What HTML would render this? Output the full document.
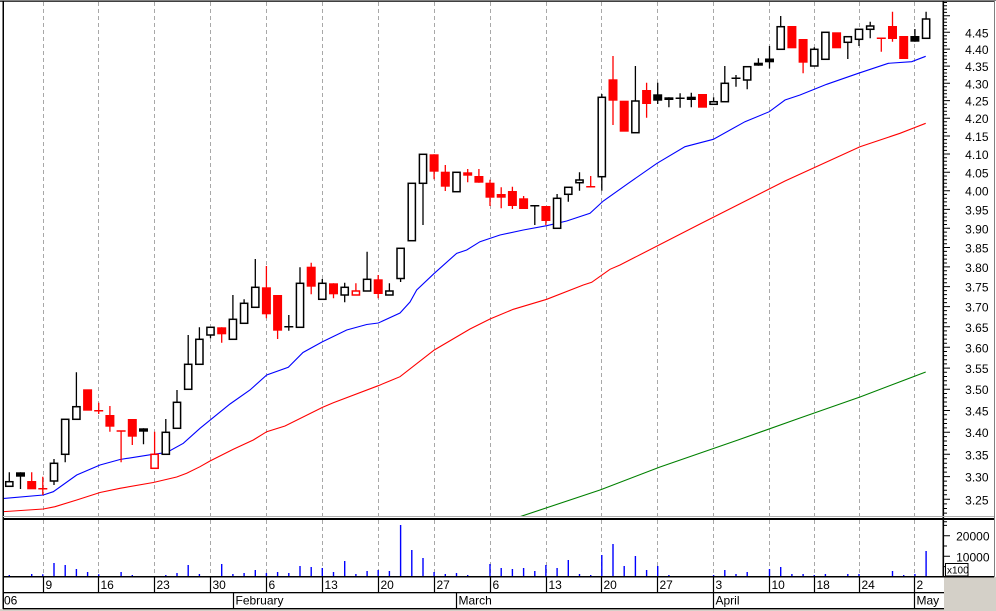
<!DOCTYPE html>
<html><head><meta charset="utf-8"><style>
html,body{margin:0;padding:0;background:#fff;}
body{width:996px;height:611px;overflow:hidden;}
svg{display:block;}
text{font-family:"Liberation Sans",Arial,sans-serif;font-size:12px;fill:#000;}
</style></head><body>
<svg width="996" height="611" viewBox="0 0 996 611" xmlns="http://www.w3.org/2000/svg">
<defs>
<clipPath id="pc"><rect x="4" y="2" width="939" height="514"/></clipPath>
</defs>
<rect x="0" y="0" width="996" height="611" fill="#fff"/>
<!-- gray areas -->
<rect x="944" y="577" width="52" height="34" fill="#d4d0c8"/>
<rect x="0" y="609" width="996" height="2" fill="#d4d0c8"/>

<!-- dashed grid -->
<g stroke="#a8a8a8" stroke-width="1" stroke-dasharray="4 3" fill="none">
<path d="M43.5 2V516M98.5 2V516M154.5 2V516M210.5 2V516M266.5 2V516M322.5 2V516M378.5 2V516M434.5 2V516M490.5 2V516M546.5 2V516M601.5 2V516M657.5 2V516M713.5 2V516M769.5 2V516M814.5 2V516M859.5 2V516M914.5 2V516"/>
<path d="M43.5 520V576M98.5 520V576M154.5 520V576M210.5 520V576M266.5 520V576M322.5 520V576M378.5 520V576M434.5 520V576M490.5 520V576M546.5 520V576M601.5 520V576M657.5 520V576M713.5 520V576M769.5 520V576M814.5 520V576M859.5 520V576M914.5 520V576"/>
</g>

<!-- moving averages -->
<g clip-path="url(#pc)" fill="none" stroke-width="1.1">
<polyline stroke="#008000" points="519,517 600,490 660,467 738,440 800,418 860,397 925.7,372"/>
<polyline stroke="#ff0000" points="3,511.7 43.3,509 55,506.7 76.7,500 100,492.5 120,488.3 153.3,482.5 176.7,477 186.7,473.3 200,466.7 210,461 233.3,449.3 253.3,440 266.7,431.7 285,426 322.7,407.3 333.3,402.7 378.3,385.7 400,376.7 434.3,350 470,329 490,319 513.3,309.3 546.7,299.3 583.3,285 591.7,282.3 610,269.3 620,265 700,224 785,181 860,146.7 900,133.3 925.7,123.3"/>
<polyline stroke="#0000ff" points="3,498.5 43.3,495 53.3,491.7 76.7,475 100,465 120,459.5 153,454.3 166.7,452.5 183.3,443.3 200,428.3 230,404 250,390 266.7,375 288.3,367.3 303,352.5 322,342 346.7,330 366.7,324.5 378.3,323 400,313 410,302 416.7,290 434.3,273.3 456.7,253.3 466.7,250 480,241.7 500,235 523.3,230 546.7,225.7 566.7,221 590,213.3 603.3,201 628.3,183.3 657,163.3 685,146.7 713.3,139.3 745,121.7 769.3,111.7 785,100 800,95 826.7,84.3 858.3,73.3 888.3,63.3 911.7,61.7 925.7,56.3"/>
</g>

<!-- candle wicks -->
<path fill="none" stroke="#000" stroke-width="1.3" d="M9.3 472.3V486.3M20.5 472.3V489M54 459V485M65.2 419.3V462.3M76.4 372.3V419.3M143.5 428.3V444.3M165.8 419V454.3M177 390V428.3M188.2 335V389.3M199.4 327.3V364.3M210.5 327.3V338.3M232.9 295V339.3M244.1 299.3V323.3M255.3 259V307.3M288.8 315V330.7M300 267.3V327.3M322.3 279V299.3M344.7 282.7V302.3M367.1 251.7V291M389.4 283.3V295M400.6 248.3V282M411.8 183.3V240.7M423 154.3V225M456.5 172.3V191.7M534.8 205.7V225M557.1 194V228.3M568.3 187.3V201.7M579.5 172.3V190.7M601.8 94V190.7M635.4 66V132.7M657.7 82.7V104M668.9 97.3V107.3M680.1 93.3V107.7M691.3 92.7V107.3M713.6 97.3V104.3M724.8 66V101.7M736 75V86.7M747.2 66.7V89.3M758.4 58.3V65.7M769.5 46V68.5M780.7 16V49.3M814.3 47.3V66M825.4 32.3V59.3M847.8 36.7V59M859 29.3V46M870.2 21.7V38.3M914.9 29V41.7M926.1 11.7V38.3"/>
<path fill="none" stroke="#000" stroke-width="1.5" d="M284.3 326.7H293.3M530.3 205.7H539.3M675.6 98.3H684.6M731.5 78.3H740.5"/>
<path fill="none" stroke="#ff0000" stroke-width="1.3" d="M31.7 472.3V489M42.8 476.7V495M98.7 402.7V414M109.9 406V431.7M121.1 431V462.3M132.3 419V445M154.6 431.7V468.3M221.7 327.3V342.7M266.4 266V318.3M277.6 295V339M311.2 262.7V294.3M333.5 283.3V298.3M355.9 283.3V295M378.2 275V298.3M434.1 154.3V179.3M445.3 165V191M467.7 169V182.3M478.9 169V182.7M490 179.7V206M501.2 187.3V208.3M512.4 186.7V209M523.6 196V209M545.9 206V225M590.7 176V186.7M613 56V125M646.6 82.7V117.7M803.1 39V73.3M881.3 38.3V51.7M892.5 11.7V41.7"/>
<path fill="none" stroke="#ff0000" stroke-width="1.5" d="M38.3 488.7H47.3M94.2 410.7H103.2M116.6 431H125.6M586.2 186.7H595.2M876.8 38.3H885.8"/>

<!-- red filled bodies -->
<g fill="#ff0000">
<rect x="27.2" y="481" width="9" height="8.3"/>
<rect x="83.1" y="389.3" width="9" height="21.4"/>
<rect x="105.4" y="415" width="9" height="11.7"/>
<rect x="127.8" y="419" width="9" height="17.7"/>
<rect x="217.2" y="327.3" width="9" height="7"/>
<rect x="261.9" y="287.3" width="9" height="27"/>
<rect x="273.1" y="295" width="9" height="35.7"/>
<rect x="306.7" y="266.7" width="9" height="20"/>
<rect x="329" y="283.3" width="9" height="11"/>
<rect x="373.7" y="279.3" width="9" height="14.7"/>
<rect x="429.6" y="154.3" width="9" height="17.4"/>
<rect x="440.8" y="171.7" width="9" height="15"/>
<rect x="463.2" y="172.3" width="9" height="3.4"/>
<rect x="474.4" y="176" width="9" height="6.7"/>
<rect x="485.5" y="182.7" width="9" height="15"/>
<rect x="496.7" y="194" width="9" height="3.7"/>
<rect x="507.9" y="191" width="9" height="15"/>
<rect x="519.1" y="198.3" width="9" height="10.7"/>
<rect x="541.4" y="206" width="9" height="15"/>
<rect x="608.5" y="79.3" width="9" height="21.4"/>
<rect x="619.7" y="100.7" width="9" height="31"/>
<rect x="642.1" y="90" width="9" height="14"/>
<rect x="698" y="94" width="9" height="13.7"/>
<rect x="787.4" y="26" width="9" height="22.3"/>
<rect x="798.6" y="39" width="9" height="23.7"/>
<rect x="832.1" y="32.3" width="9" height="16"/>
<rect x="888" y="26" width="9" height="13"/>
<rect x="899.2" y="36" width="9" height="23"/>
</g>
<!-- red hollow -->
<g fill="#fff" stroke="#ff0000" stroke-width="1.5">
<rect x="151" y="454.3" width="7.2" height="14"/>
<rect x="352.3" y="291" width="7.2" height="4"/>
</g>
<!-- black filled -->
<g fill="#000">
<rect x="16" y="472.3" width="9" height="4.4"/>
<rect x="139" y="428.3" width="9" height="3.4"/>
<rect x="653.2" y="94.3" width="9" height="6.4"/>
<rect x="664.4" y="97.3" width="9" height="2.7"/>
<rect x="686.8" y="96.7" width="9" height="3.3"/>
<rect x="753.9" y="62.7" width="9" height="3"/>
<rect x="765" y="58.5" width="9" height="3.8"/>
<rect x="910.4" y="36" width="9" height="5.7"/>
</g>
<!-- hollow black -->
<g fill="#fff" stroke="#000" stroke-width="1.5">
<rect x="5.7" y="481.7" width="7.2" height="4.6"/>
<rect x="50.4" y="463.3" width="7.2" height="17.7"/>
<rect x="61.6" y="419.3" width="7.2" height="35"/>
<rect x="72.8" y="406.7" width="7.2" height="12.6"/>
<rect x="162.2" y="432.3" width="7.2" height="22"/>
<rect x="173.4" y="402.3" width="7.2" height="26"/>
<rect x="184.6" y="364.3" width="7.2" height="25"/>
<rect x="195.8" y="339.3" width="7.2" height="25"/>
<rect x="206.9" y="327.3" width="7.2" height="7.7"/>
<rect x="229.3" y="319.3" width="7.2" height="20"/>
<rect x="240.5" y="303.3" width="7.2" height="20"/>
<rect x="251.7" y="287.3" width="7.2" height="20"/>
<rect x="296.4" y="283.3" width="7.2" height="44"/>
<rect x="318.7" y="283.3" width="7.2" height="16"/>
<rect x="341.1" y="287.3" width="7.2" height="7.7"/>
<rect x="363.5" y="279.3" width="7.2" height="11.7"/>
<rect x="385.8" y="291" width="7.2" height="4"/>
<rect x="397" y="248.3" width="7.2" height="30.2"/>
<rect x="408.2" y="183.3" width="7.2" height="57.4"/>
<rect x="419.4" y="154.3" width="7.2" height="29"/>
<rect x="452.9" y="172.3" width="7.2" height="19.4"/>
<rect x="553.5" y="198.3" width="7.2" height="30"/>
<rect x="564.7" y="187.3" width="7.2" height="7"/>
<rect x="575.9" y="180" width="7.2" height="2.7"/>
<rect x="598.2" y="97.3" width="7.2" height="79.4"/>
<rect x="631.8" y="101" width="7.2" height="31.7"/>
<rect x="710" y="101.7" width="7.2" height="2.6"/>
<rect x="721.2" y="83.3" width="7.2" height="18.4"/>
<rect x="743.6" y="66.7" width="7.2" height="13.3"/>
<rect x="777.1" y="26.7" width="7.2" height="22.6"/>
<rect x="810.7" y="49.3" width="7.2" height="16.7"/>
<rect x="821.8" y="32.3" width="7.2" height="27"/>
<rect x="844.2" y="36.7" width="7.2" height="5.6"/>
<rect x="855.4" y="29.3" width="7.2" height="10"/>
<rect x="866.6" y="26" width="7.2" height="3.3"/>
<rect x="922.5" y="19" width="7.2" height="19.3"/>
</g>

<!-- volume bars -->
<path fill="none" stroke="#0000ff" stroke-width="1.4" d="M9.3 576V575M31.7 576V574M42.8 576V574.3M54 576V563M65.2 576V565M76.4 576V569M87.6 576V572M98.7 576V574.3M121.1 576V572M132.3 576V575M165.8 576V575M177 576V573M188.2 576V565M199.4 576V574M221.7 576V564M232.9 576V574M244.1 576V573M255.3 576V570M266.4 576V573M277.6 576V572M288.8 576V573M300 576V566M311.2 576V567M322.3 576V568M333.5 576V572M344.7 576V561M355.9 576V574M367.1 576V571M378.2 576V570M389.4 576V571M400.6 576V525M411.8 576V550M423 576V558M434.1 576V572M445.3 576V574M456.5 576V573M467.7 576V575M490 576V564M501.2 576V568M512.4 576V569M523.6 576V568M534.8 576V571M545.9 576V565M557.1 576V568M568.3 576V560M579.5 576V574M590.7 576V575M601.8 576V555M613 576V544M624.2 576V566M635.4 576V556M646.6 576V570M657.7 576V566M668.9 576V575M713.6 576V575M724.8 576V570M736 576V574M747.2 576V572M769.5 576V569M780.7 576V567M791.9 576V574M803.1 576V574M814.3 576V575M825.4 576V574M847.8 576V574M859 576V574M892.5 576V571M903.7 576V575M914.9 576V574M926.1 576V551"/>

<!-- frame lines -->
<rect x="0" y="0" width="996" height="1" fill="#808080"/>
<rect x="0" y="1" width="995" height="1" fill="#404040"/>
<rect x="2.5" y="1" width="1.5" height="608" fill="#000"/>
<rect x="994" y="0" width="1" height="577" fill="#808080"/>
<rect x="942.5" y="1" width="1.6" height="576" fill="#000"/>
<rect x="3" y="516" width="991" height="1" fill="#b0b0b0"/>
<rect x="3" y="518" width="991" height="2" fill="#000"/>
<rect x="3" y="576" width="991" height="1.5" fill="#000"/>
<rect x="3" y="592" width="941" height="1.3" fill="#000"/>
<rect x="3" y="608" width="941" height="1.3" fill="#000"/>

<!-- price axis ticks -->
<path fill="none" stroke="#000" stroke-width="1" d="M943 15.7h7M943 32.3h7M943 49.1h7M943 66.1h7M943 83.3h7M943 100.6h7M943 118.2h7M943 136h7M943 154h7M943 172.3h7M943 190.7h7M943 209.4h7M943 228.3h7M943 247.5h7M943 266.9h7M943 286.6h7M943 306.6h7M943 326.8h7M943 347.3h7M943 368.1h7M943 389.2h7M943 410.5h7M943 432.2h7M943 454.3h7M943 476.6h7M943 499.3h7"/>
<path fill="none" stroke="#000" stroke-width="1" d="M943 2.5h4M943 5.8h4M943 9.1h4M943 12.4h4M943 19h4M943 22.3h4M943 25.6h4M943 29h4M943 35.7h4M943 39h4M943 42.4h4M943 45.7h4M943 52.5h4M943 55.9h4M943 59.3h4M943 62.7h4M943 69.5h4M943 73h4M943 76.4h4M943 79.9h4M943 86.8h4M943 90.2h4M943 93.7h4M943 97.1h4M943 104.1h4M943 107.6h4M943 111.2h4M943 114.7h4M943 121.8h4M943 125.3h4M943 128.9h4M943 132.4h4M943 139.6h4M943 143.2h4M943 146.8h4M943 150.4h4M943 157.7h4M943 161.3h4M943 165h4M943 168.6h4M943 176h4M943 179.7h4M943 183.3h4M943 187h4M943 194.4h4M943 198.2h4M943 201.9h4M943 205.7h4M943 213.2h4M943 217h4M943 220.7h4M943 224.5h4M943 232.1h4M943 236h4M943 239.8h4M943 243.7h4M943 251.4h4M943 255.3h4M943 259.1h4M943 263h4M943 270.8h4M943 274.8h4M943 278.7h4M943 282.7h4M943 290.6h4M943 294.6h4M943 298.6h4M943 302.6h4M943 310.6h4M943 314.7h4M943 318.7h4M943 322.8h4M943 330.9h4M943 335h4M943 339.1h4M943 343.2h4M943 351.5h4M943 355.6h4M943 359.8h4M943 363.9h4M943 372.3h4M943 376.5h4M943 380.8h4M943 385h4M943 393.5h4M943 397.7h4M943 402h4M943 406.2h4M943 414.8h4M943 419.2h4M943 423.5h4M943 427.9h4M943 436.6h4M943 441h4M943 445.5h4M943 449.9h4M943 458.8h4M943 463.2h4M943 467.7h4M943 472.1h4M943 481.1h4M943 485.7h4M943 490.2h4M943 494.8h4M943 503.9h4M943 508.5h4M943 513.1h4"/>
<!-- volume axis ticks -->
<path fill="none" stroke="#000" stroke-width="1" d="M943 535.7h7M943 556.3h7M943 521.7h4M943 525.4h4M943 546h4M943 566.6h4"/>

<!-- price labels -->
<g text-anchor="end">
<text x="988.5" y="37.3">4.45</text>
<text x="988.5" y="54.1">4.40</text>
<text x="988.5" y="71.1">4.35</text>
<text x="988.5" y="88.3">4.30</text>
<text x="988.5" y="105.6">4.25</text>
<text x="988.5" y="123.2">4.20</text>
<text x="988.5" y="141">4.15</text>
<text x="988.5" y="159">4.10</text>
<text x="988.5" y="177.3">4.05</text>
<text x="988.5" y="195.7">4.00</text>
<text x="988.5" y="214.4">3.95</text>
<text x="988.5" y="233.3">3.90</text>
<text x="988.5" y="252.5">3.85</text>
<text x="988.5" y="271.9">3.80</text>
<text x="988.5" y="291.6">3.75</text>
<text x="988.5" y="311.6">3.70</text>
<text x="988.5" y="331.8">3.65</text>
<text x="988.5" y="352.3">3.60</text>
<text x="988.5" y="373.1">3.55</text>
<text x="988.5" y="394.2">3.50</text>
<text x="988.5" y="415.5">3.45</text>
<text x="988.5" y="437.2">3.40</text>
<text x="988.5" y="459.3">3.35</text>
<text x="988.5" y="481.6">3.30</text>
<text x="988.5" y="504.3">3.25</text>
<text x="989.5" y="540.7">20000</text>
<text x="989.5" y="561.5">10000</text>
</g>
<!-- x100 box -->
<rect x="945.5" y="563.5" width="22.5" height="12.5" fill="#fff" stroke="#000" stroke-width="1"/>
<text x="947" y="573.5" style="font-size:10px">x100</text>

<!-- date row ticks -->
<path fill="none" stroke="#000" stroke-width="1.2" d="M43.5 576V592M98.5 576V592M154.5 576V592M210.5 576V592M266.5 576V592M322.5 576V592M378.5 576V592M434.5 576V592M490.5 576V592M546.5 576V592M601.5 576V592M657.5 576V592M713.5 576V592M769.5 576V592M814.5 576V592M859.5 576V592M914.5 576V592"/>
<path fill="none" stroke="#000" stroke-width="1.2" d="M233.5 592V608M456.5 592V608M713.5 592V608M914.5 592V608"/>
<g>
<text x="45.5" y="589">9</text>
<text x="100.5" y="589">16</text>
<text x="156.5" y="589">23</text>
<text x="212.5" y="589">30</text>
<text x="268.5" y="589">6</text>
<text x="324.5" y="589">13</text>
<text x="380.5" y="589">20</text>
<text x="436.5" y="589">27</text>
<text x="492.5" y="589">6</text>
<text x="548.5" y="589">13</text>
<text x="603.5" y="589">20</text>
<text x="659.5" y="589">27</text>
<text x="715.5" y="589">3</text>
<text x="771.5" y="589">10</text>
<text x="816.5" y="589">18</text>
<text x="861.5" y="589">24</text>
<text x="916.5" y="589">2</text>
<text x="4" y="604.5">06</text>
<text x="235.5" y="604.5">February</text>
<text x="458.5" y="604.5">March</text>
<text x="715.5" y="604.5">April</text>
<text x="916.5" y="604.5">May</text>
</g>
</svg>
</body></html>
